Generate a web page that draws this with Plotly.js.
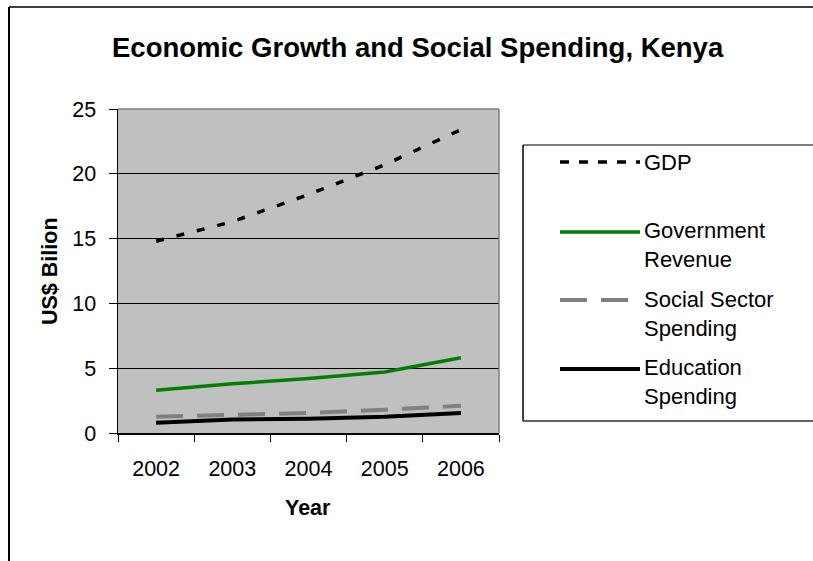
<!DOCTYPE html>
<html>
<head>
<meta charset="utf-8">
<script src="https://cdn.plot.ly/plotly-3.0.1.min.js"></script>
<style>html,body{margin:0;padding:0;background:#fff;}#chart{width:813px;height:561px;}</style>
</head>
<body>
<div id="chart"></div>
<script>
const years = ['2002', '2003', '2004', '2005', '2006'];
const gdp = [14.8, 16.3, 18.4, 20.7, 23.4];
const govRevenue = [3.3, 3.8, 4.2, 4.7, 5.8];
const socialSpending = [1.25, 1.4, 1.55, 1.8, 2.1];
const educationSpending = [0.8, 1.05, 1.1, 1.25, 1.55];
const seriesNames = ['GDP', 'Government<br>Revenue', 'Social Sector<br>Spending', 'Education<br>Spending'];
const yTicks = [0, 5, 10, 15, 20, 25];

const W = 813, H = 561;
const L = 118, R = 499, T = 109, B = 433;
const px = x => (x - L) / (R - L);
const py = y => (B - y) / (B - T);
const FONT = 'Liberation Sans, Arial, sans-serif';

const styles = [
  {color: '#000000', width: 3.5, dash: '8px,13px'},
  {color: '#008000', width: 3.5, dash: 'solid'},
  {color: '#808080', width: 4, dash: '27px,14px'},
  {color: '#000000', width: 4, dash: 'solid'}
];
const values = [gdp, govRevenue, socialSpending, educationSpending];

const traces = values.map((v, i) => ({
  type: 'scatter', mode: 'lines', x: years, y: v, name: seriesNames[i].replace('<br>', ' '),
  line: {color: styles[i].color, width: styles[i].width, dash: styles[i].dash},
  showlegend: false, hoverinfo: 'skip'
}));

// legend layout (pixel positions)
const legLineY = [162, 232, 300, 369];
const legTextY = [162, 245, 314, 382];
const shapes = [
  // outer frame
  {type: 'line', xref: 'paper', yref: 'paper', x0: px(9), x1: px(813), y0: py(7), y1: py(7), line: {color: '#404040', width: 2}},
  {type: 'line', xref: 'paper', yref: 'paper', x0: px(9), x1: px(9), y0: py(7), y1: py(561), line: {color: '#000000', width: 2}},
  // plot area top/right border
  {type: 'line', xref: 'paper', yref: 'paper', x0: 0, x1: 1, y0: 1, y1: 1, line: {color: '#808080', width: 1.5}},
  {type: 'line', xref: 'paper', yref: 'paper', x0: 1, x1: 1, y0: 0, y1: 1, line: {color: '#808080', width: 1.5}},
  // legend box
  {type: 'line', xref: 'paper', yref: 'paper', x0: px(523), x1: px(813), y0: py(145), y1: py(145), line: {color: '#808080', width: 2}},
  {type: 'line', xref: 'paper', yref: 'paper', x0: px(523), x1: px(523), y0: py(145), y1: py(421), line: {color: '#000000', width: 1.5}},
  {type: 'line', xref: 'paper', yref: 'paper', x0: px(523), x1: px(813), y0: py(421), y1: py(421), line: {color: '#303030', width: 1.5}}
];
const annotations = [
  {xref: 'paper', yref: 'paper', x: px(418), y: py(47), xanchor: 'center', yanchor: 'middle', showarrow: false,
   text: '<b>Economic Growth and Social Spending, Kenya</b>', font: {family: FONT, size: 27.5, color: '#000'}},
  {xref: 'paper', yref: 'paper', x: px(50), y: py(271), xanchor: 'center', yanchor: 'middle', showarrow: false, textangle: -90,
   text: '<b>US$ Bilion</b>', font: {family: FONT, size: 21.5, color: '#000'}},
  {xref: 'paper', yref: 'paper', x: px(308), y: py(508), xanchor: 'center', yanchor: 'middle', showarrow: false,
   text: '<b>Year</b>', font: {family: FONT, size: 21.5, color: '#000'}}
];
styles.forEach((s, i) => {
  shapes.push({type: 'line', xref: 'paper', yref: 'paper', x0: px(560), x1: px(640), y0: py(legLineY[i]), y1: py(legLineY[i]),
    line: {color: s.color, width: s.width, dash: i === 0 ? '9px,10px' : s.dash}});
  annotations.push({xref: 'paper', yref: 'paper', x: px(642), y: py(legTextY[i]), xanchor: 'left', yanchor: 'middle', align: 'left',
    showarrow: false, text: seriesNames[i], font: {family: FONT, size: 22, color: '#000'}});
});

const layout = {
  width: W, height: H,
  margin: {l: L, r: W - R, t: T, b: H - B, pad: 0},
  paper_bgcolor: '#ffffff', plot_bgcolor: '#c0c0c0',
  showlegend: false,
  font: {family: FONT, size: 21, color: '#000'},
  xaxis: {
    type: 'category', range: [-0.5, 4.5], tickson: 'boundaries', ticks: 'outside', ticklen: 7, tickcolor: '#000', tickwidth: 1,
    showline: true, linecolor: '#000', linewidth: 1.5, showgrid: false, zeroline: false,
    tickfont: {family: FONT, size: 21.5, color: '#000'}, ticklabelstandoff: 16, automargin: false, fixedrange: true
  },
  yaxis: {
    range: [0, 25], tickvals: yTicks, ticktext: yTicks.map(String), ticks: 'outside', ticklen: 8, tickcolor: '#000', tickwidth: 1,
    showline: true, linecolor: '#000', linewidth: 1.5, showgrid: true, gridcolor: '#000', gridwidth: 1, zeroline: false,
    tickfont: {family: FONT, size: 21.5, color: '#000'}, ticklabelstandoff: 8, automargin: false, fixedrange: true
  },
  shapes: shapes,
  annotations: annotations
};

Plotly.newPlot('chart', traces, layout, {displayModeBar: false, staticPlot: true});
</script>
</body>
</html>
